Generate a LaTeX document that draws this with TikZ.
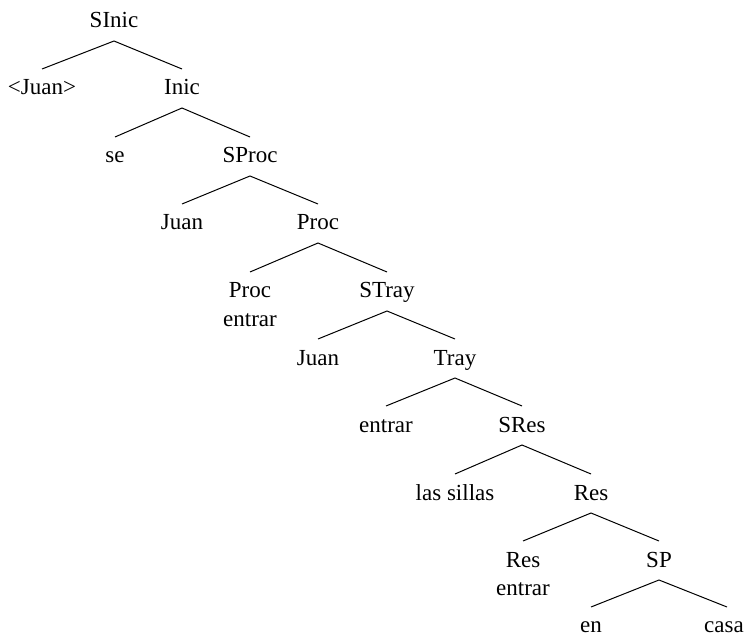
\documentclass[tikz,border=0pt]{standalone}
\usepackage{fontspec}
\setmainfont{Liberation Serif}
\begin{document}
\begin{tikzpicture}[x=1pt,y=-1pt,
  lab/.style={anchor=base,inner xsep=0pt,inner ysep=0pt,outer sep=0pt,
    text height=16pt,text depth=5pt,font=\fontsize{23}{27}\selectfont},
  leaf/.style={lab,text depth=1pt},
  br/.style={line width=1pt}]
\useasboundingbox (0,0) rectangle (752,636);
\node[lab] (sinic) at (114,28) {SInic};
\node[lab] (juan1) at (42,95) {<Juan>};
\node[lab] (inic) at (182,95) {Inic};
\node[lab] (se) at (115,163) {se};
\node[lab] (sproc) at (250,163) {SProc};
\node[lab] (juan2) at (182,230) {Juan};
\node[lab] (proc) at (318,230) {Proc};
\node[lab] (proc2) at (250,298) {Proc};
\node[lab] (entrar1) at (250,326) {entrar};
\node[lab] (stray) at (387,298) {STray};
\node[lab] (juan3) at (318,365) {Juan};
\node[lab] (tray) at (455,365) {Tray};
\node[lab] (entrar2) at (386,432) {entrar};
\node[lab] (sres) at (522,432) {SRes};
\node[lab] (sillas) at (455,500) {las sillas};
\node[lab] (res) at (591,500) {Res};
\node[lab] (res2) at (523,567) {Res};
\node[lab] (entrar3) at (523,595) {entrar};
\node[lab] (sp) at (659,567) {SP};
\node[leaf] (en) at (591,632) {en};
\node[leaf] (casa) at (724,632) {casa};
\foreach \p/\a/\b in {sinic/juan1/inic, inic/se/sproc, sproc/juan2/proc,
  proc/proc2/stray, stray/juan3/tray, tray/entrar2/sres, sres/sillas/res,
  res/res2/sp}{
  \draw[br] ([yshift=10pt]\a.north) -- ([yshift=-8pt]\p.south) -- ([yshift=10pt]\b.north);
}
\draw[br] ([yshift=9pt]en.north) -- ([yshift=-8pt]sp.south) -- ([xshift=3pt,yshift=9pt]casa.north);
\end{tikzpicture}
\end{document}
